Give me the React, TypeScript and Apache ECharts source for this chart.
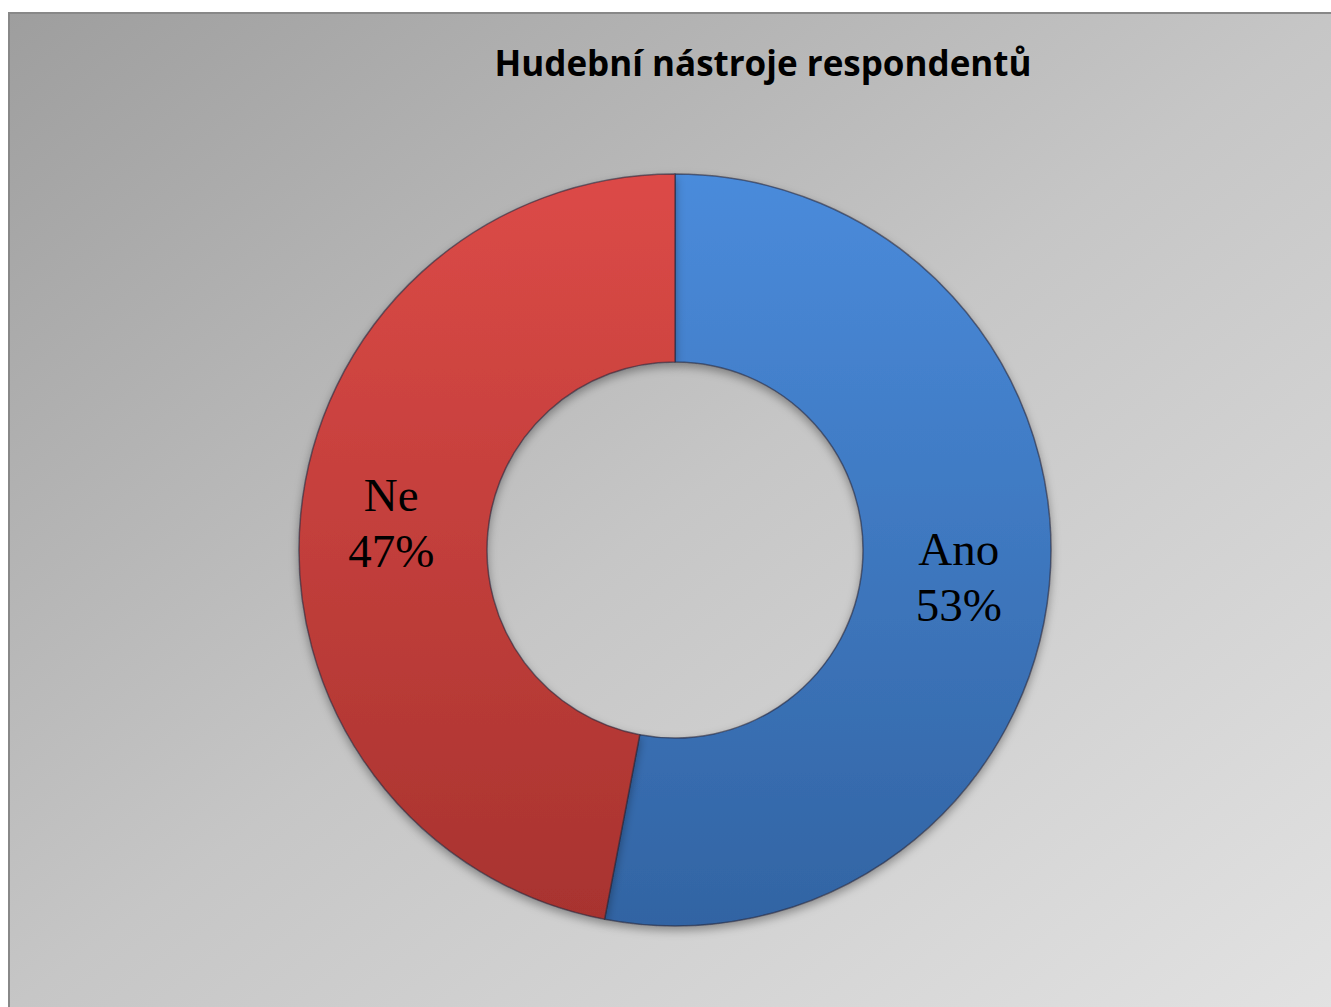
import React, { useEffect, useRef } from "react";
import * as echarts from "echarts";

const titleText = "Hudební nástroje respondentů";
const categories = ["Ano", "Ne"];
const values = [53, 47];
const topColors = ["#4a8bdb", "#dc4a47"];
const bottomColors = ["#3264a3", "#a8332f"];

export default function App() {
  const ref = useRef<HTMLDivElement>(null);
  useEffect(() => {
    if (!ref.current) return;
    const chart = echarts.init(ref.current, null, { renderer: "svg" });
    chart.setOption({
      animation: false,
      backgroundColor: new echarts.graphic.LinearGradient(0, 0, 1, 1, [
        { offset: 0, color: "#9e9e9e" },
        { offset: 0.5, color: "#c6c6c6" },
        { offset: 1, color: "#e2e2e2" },
      ]),
      title: {
        text: titleText,
        left: 748,
        top: 26,
        textAlign: "center",
        textStyle: {
          fontFamily: "Open Sans",
          fontWeight: "bold",
          fontSize: 35,
          color: "#000",
        },
      },
      series: [
        {
          type: "pie",
          center: [665, 536],
          radius: [188, 376],
          startAngle: 90,
          clockwise: true,
          avoidLabelOverlap: false,
          itemStyle: {
            borderColor: "rgba(40,40,60,0.6)",
            borderWidth: 1.5,
            shadowColor: "rgba(0,0,0,0.35)",
            shadowBlur: 10,
            shadowOffsetY: 4,
          },
          label: {
            show: true,
            position: "inside",
            formatter: (p: any) => `${p.name}\n${Math.round(p.percent)}%`,
            fontFamily: "Liberation Serif",
            fontSize: 47,
            lineHeight: 56,
            color: "#000",
          },
          labelLine: { show: false },
          data: categories.map((c, i) => ({
            name: c,
            value: values[i],
            itemStyle: {
              color: new echarts.graphic.LinearGradient(0, 0, 0, 1, [
                { offset: 0, color: topColors[i] },
                { offset: 1, color: bottomColors[i] },
              ]),
            },
          })),
        },
      ],
    });
    return () => chart.dispose();
  }, []);
  return (
    <div
      ref={ref}
      style={{
        position: "absolute",
        left: 8,
        top: 12,
        width: 1330,
        height: 1000,
        boxSizing: "border-box",
        border: "2px solid #888",
      }}
    />
  );
}
